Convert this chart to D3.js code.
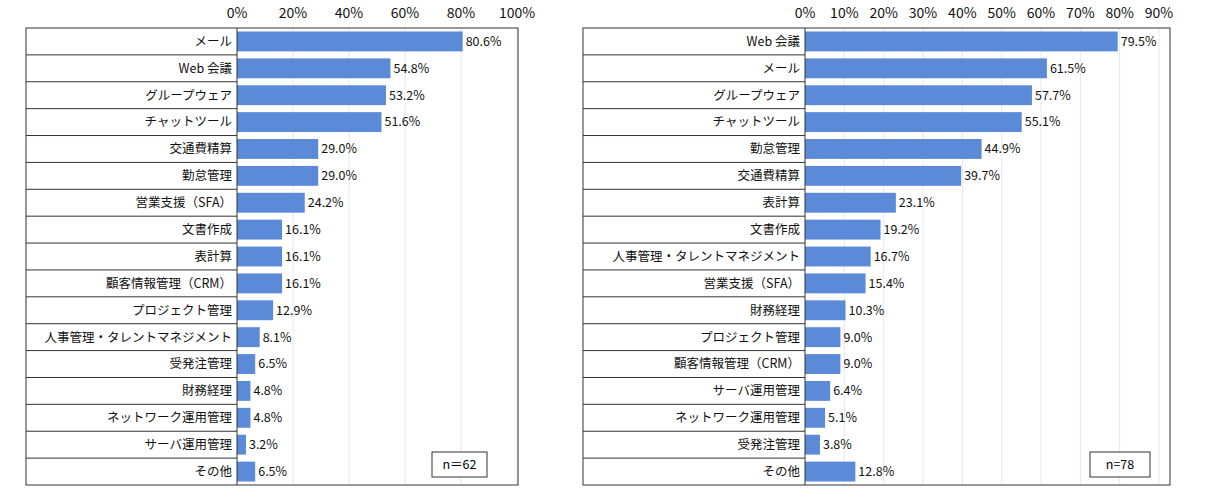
<!DOCTYPE html>
<html><head><meta charset="utf-8">
<script src="https://cdn.jsdelivr.net/npm/d3@7"></script>
<style>body{margin:0;background:#fff}</style>
</head><body><div id="container"></div>
<script>
const leftCats = ["メール","Web 会議","グループウェア","チャットツール","交通費精算","勤怠管理","営業支援（SFA）","文書作成","表計算","顧客情報管理（CRM）","プロジェクト管理","人事管理・タレントマネジメント","受発注管理","財務経理","ネットワーク運用管理","サーバ運用管理","その他"];
const leftVals = [80.6,54.8,53.2,51.6,29.0,29.0,24.2,16.1,16.1,16.1,12.9,8.1,6.5,4.8,4.8,3.2,6.5];
const leftTicks = [0,20,40,60,80,100];
const rightCats = ["Web 会議","メール","グループウェア","チャットツール","勤怠管理","交通費精算","表計算","文書作成","人事管理・タレントマネジメント","営業支援（SFA）","財務経理","プロジェクト管理","顧客情報管理（CRM）","サーバ運用管理","ネットワーク運用管理","受発注管理","その他"];
const rightVals = [79.5,61.5,57.7,55.1,44.9,39.7,23.1,19.2,16.7,15.4,10.3,9.0,9.0,6.4,5.1,3.8,12.8];
const rightTicks = [0,10,20,30,40,50,60,70,80,90];

const width = 1212, height = 500;
const font = "'Noto Sans CJK JP', sans-serif";
const svg = d3.select("#container").append("svg").attr("width", width).attr("height", height)
    .style("font-family", font);

function drawPanel(cats, vals, ticks, o) {
    const g = svg.append("g");
    const x = d3.scaleLinear().domain([0, ticks[ticks.length - 1]]).range([o.axisX, o.right]);
    const y = d3.scaleBand().domain(cats).range([o.top, o.bottom]);
    // gridlines
    g.selectAll("line.grid").data(ticks.slice(1)).join("line")
        .attr("x1", d => x(d)).attr("x2", d => x(d)).attr("y1", o.top).attr("y2", o.bottom)
        .attr("stroke", "#e4e8ec");
    // label cell separators
    g.selectAll("line.sep").data(cats.slice(1)).join("line")
        .attr("x1", o.left).attr("x2", o.axisX).attr("y1", d => y(d)).attr("y2", d => y(d))
        .attr("stroke", "#333").attr("stroke-width", 1);
    g.selectAll("rect.bar").data(vals).join("rect")
        .attr("x", x(0)).attr("y", (d, i) => y(cats[i]) + 3.5)
        .attr("width", d => x(d) - x(0)).attr("height", y.bandwidth() - 7)
        .attr("fill", "#5b8ad8");
    g.selectAll("text.val").data(vals).join("text")
        .attr("x", d => x(d) + 3).attr("y", (d, i) => y(cats[i]) + y.bandwidth() / 2)
        .attr("dy", "0.35em").attr("font-size", 12.5).attr("fill", "#111")
        .text(d => d.toFixed(1) + "%");
    g.selectAll("text.cat").data(cats).join("text")
        .attr("x", o.axisX - 5).attr("y", d => y(d) + y.bandwidth() / 2)
        .attr("dy", "0.35em").attr("text-anchor", "end").attr("font-size", 12.5).attr("fill", "#111")
        .text(d => d);
    g.selectAll("text.tick").data(ticks).join("text")
        .attr("x", d => x(d)).attr("y", 18).attr("text-anchor", "middle")
        .attr("font-size", 14).attr("fill", "#111").text(d => d + "%");
    g.append("rect").attr("x", o.left).attr("y", o.top).attr("width", o.frameR - o.left)
        .attr("height", o.bottom - o.top).attr("fill", "none").attr("stroke", "#333");
    g.append("line").attr("x1", o.axisX).attr("x2", o.axisX).attr("y1", o.top).attr("y2", o.bottom)
        .attr("stroke", "#333");
    g.append("rect").attr("x", o.nx).attr("y", 452).attr("width", o.nw).attr("height", 25)
        .attr("fill", "#fff").attr("stroke", "#333");
    g.append("text").attr("x", o.nx + o.nw / 2).attr("y", 465).attr("dy", "0.35em")
        .attr("text-anchor", "middle").attr("font-size", 12.5).text(o.n);
}

drawPanel(leftCats, leftVals, leftTicks, {left: 26, axisX: 237, right: 517, frameR: 518, top: 28, bottom: 485, nx: 432, nw: 55, n: "n＝62"});
drawPanel(rightCats, rightVals, rightTicks, {left: 583, axisX: 805, right: 1159, frameR: 1170, top: 28, bottom: 485, nx: 1090, nw: 60, n: "n=78"});
</script></body></html>
